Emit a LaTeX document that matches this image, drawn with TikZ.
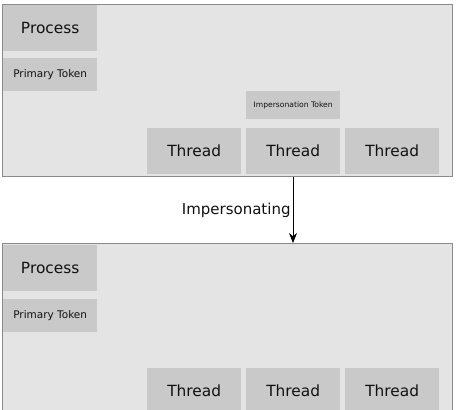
\documentclass[tikz,border=0pt]{standalone}
\usepackage{fontspec}
\setmainfont{DejaVu Sans}
\usetikzlibrary{arrows.meta}
\definecolor{contfill}{HTML}{E4E4E4}
\definecolor{contline}{HTML}{8A8A8A}
\definecolor{boxfill}{HTML}{C9C9C9}
\definecolor{txt}{HTML}{111111}
\tikzset{
  container/.style={draw=contline, line width=1.2pt, fill=contfill},
  gbox/.style={fill=boxfill, draw=none, inner sep=0pt, anchor=north west, text=txt, align=center},
  bigbox/.style={gbox, minimum width=94pt, minimum height=46pt, font=\fontsize{15.4}{18}\selectfont},
  tokbox/.style={gbox, minimum width=94pt, minimum height=33pt, font=\fontsize{10.5}{12}\selectfont},
  imptok/.style={gbox, minimum width=94pt, minimum height=28pt, font=\fontsize{7.6}{9}\selectfont},
  conn/.style={draw=black, line width=0.9pt, -{Stealth[length=10pt,width=8pt]}},
}
\begin{document}
\begin{tikzpicture}[x=1pt,y=-1pt]
\useasboundingbox (0,0) rectangle (456,410);
\clip (0,0) rectangle (456,410);
% top container
\node[container, inner sep=0pt, minimum width=450pt, minimum height=172pt, anchor=north west] (topc) at (2,4) {};
\node[bigbox] (p1) at (3,5) {Process};
\node[tokbox] (pt1) at (3,58) {Primary Token};
\node[imptok] (it1) at (246,91) {Impersonation Token};
\node[bigbox] (t1a) at (147,128) {Thread};
\node[bigbox] (t1b) at (246,128) {Thread};
\node[bigbox] (t1c) at (345,128) {Thread};
% bottom container
\node[container, inner sep=0pt, minimum width=450pt, minimum height=180pt, anchor=north west] (botc) at (2,243) {};
\node[bigbox] (p2) at (3,245) {Process};
\node[tokbox] (pt2) at (3,299) {Primary Token};
\node[bigbox] (t2a) at (147,368) {Thread};
\node[bigbox] (t2b) at (246,368) {Thread};
\node[bigbox] (t2c) at (345,368) {Thread};
% arrow
\draw[conn] (topc.south -| 293,0) -- node[left, pos=0.5, font=\fontsize{15}{18}\selectfont, text=txt, inner sep=2pt] (lbl) {Impersonating} (botc.north -| 293,0);
\end{tikzpicture}
\end{document}
